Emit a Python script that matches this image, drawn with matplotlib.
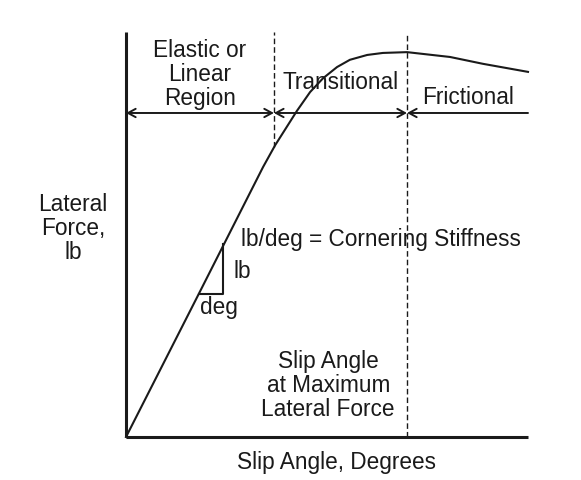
import matplotlib
matplotlib.use("Agg")
import matplotlib.pyplot as plt

# curve (slip angle, lateral force), arbitrary units 0..10
slip = [0.0, 1.82, 3.41, 3.71, 4.25, 4.58, 4.90, 5.25, 5.57, 6.00, 6.39, 6.99, 8.06, 8.88, 10.0]
force = [0.0, 3.57, 6.70, 7.24, 8.09, 8.56, 8.90, 9.18, 9.36, 9.48, 9.53, 9.55, 9.43, 9.26, 9.06]

x_max = 10.0
y_max = 10.0
x_elastic = 3.68   # end of linear region
x_peak = 6.99      # slip angle at max lateral force
y_arrow = 8.04
y_elastic_dash = 7.2

# triangle showing the slope
tri_x = [1.82, 2.41, 2.41]
tri_y = [3.55, 3.55, 4.79]

plt.rcParams['font.family'] = ['Liberation Sans', 'DejaVu Sans']
fig = plt.figure(figsize=(5.81, 4.81), dpi=100)
ax = fig.add_axes([0, 0, 1, 1])
ax.set_xlim(-126 / 40.2, 455 / 40.2)
ax.set_ylim(-43 / 40.3, 438 / 40.3)
ax.axis('off')

ink = '#1a1a1a'

# axes
ax.plot([0, 0], [0, y_max + 0.05], color=ink, lw=2.2, solid_capstyle='butt')
ax.plot([0, x_max], [0, 0], color=ink, lw=2.2, solid_capstyle='butt')

# dashed markers
ax.plot([x_elastic, x_elastic], [y_elastic_dash, y_max + 0.05], color=ink, lw=1.0,
        dashes=(4, 2.2))
ax.plot([x_peak, x_peak], [0, y_max], color=ink, lw=1.0, dashes=(4, 2.2))

# curve
ax.plot(slip, force, color=ink, lw=1.5)

# triangle
ax.plot(tri_x, tri_y, color=ink, lw=1.5)

# region arrows
arr = dict(arrowstyle='<->,head_length=0.55,head_width=0.3', color=ink, lw=1.4,
           shrinkA=0, shrinkB=0)
ax.annotate('', xy=(x_elastic, y_arrow), xytext=(0, y_arrow), arrowprops=arr)
ax.annotate('', xy=(x_peak, y_arrow), xytext=(x_elastic, y_arrow), arrowprops=arr)
arr_r = dict(arr, arrowstyle='<-,head_length=0.55,head_width=0.3')
ax.annotate('', xy=(x_max, y_arrow), xytext=(x_peak, y_arrow), arrowprops=arr_r)

fs = 16.3
ls = 1.06
ax.text(1.84, 9.03, 'Elastic or\nLinear\nRegion', ha='center', va='center', fontsize=fs,
        color=ink, linespacing=ls)
ax.text(5.33, 8.83, 'Transitional', ha='center', va='center', fontsize=fs, color=ink)
ax.text(8.51, 8.45, 'Frictional', ha='center', va='center', fontsize=fs, color=ink)
ax.text(-1.32, 5.20, 'Lateral\nForce,\nlb', ha='center', va='center', fontsize=fs,
        color=ink, linespacing=ls)
ax.text(2.87, 4.92, 'lb/deg = Cornering Stiffness', ha='left', va='center', fontsize=fs,
        color=ink)
ax.text(2.67, 4.12, 'lb', ha='left', va='center', fontsize=fs, color=ink)
ax.text(1.85, 3.25, 'deg', ha='left', va='center', fontsize=fs, color=ink)
ax.text(5.03, 1.30, 'Slip Angle\nat Maximum\nLateral Force', ha='center', va='center',
        fontsize=fs, color=ink, linespacing=ls)
ax.text(5.24, -0.6, 'Slip Angle, Degrees', ha='center', va='center', fontsize=fs,
        color=ink)

fig.savefig('out.png', dpi=100, facecolor='white')
